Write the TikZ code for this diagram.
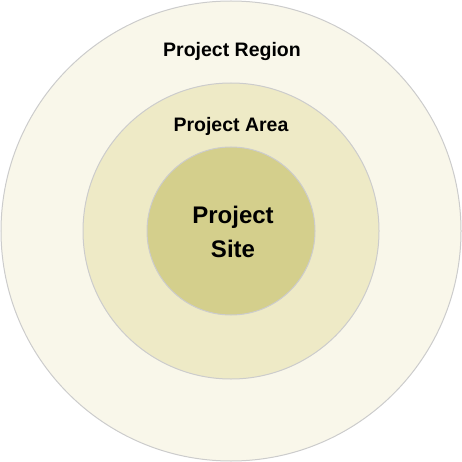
\documentclass[tikz,border=0pt]{standalone}
\usepackage{fontspec}
\setmainfont{Liberation Sans}
\definecolor{regionfill}{HTML}{F9F7EA}
\definecolor{areafill}{HTML}{EEEAC6}
\definecolor{sitefill}{HTML}{D4CF8C}
\definecolor{ringline}{HTML}{CCCCCC}
\tikzset{ring/.style={draw=ringline, line width=1pt, circle, inner sep=0pt}}
\tikzset{lbl/.style={text=black, inner sep=0pt}}

\begin{document}
\begin{tikzpicture}[x=1pt, y=-1pt]
\useasboundingbox (0,0) rectangle (462,462);
\node[ring, fill=regionfill, minimum size=460pt] (region) at (231,231) {};
\node[ring, fill=areafill, minimum size=296pt] (area) at (231,231) {};
\node[ring, fill=sitefill, minimum size=168pt] (site) at (231,231) {};
\node[lbl, font=\fontsize{19.5}{22}\selectfont\bfseries] (regionlbl) at (232,52) {Project Region};
\node[lbl, font=\fontsize{19.5}{22}\selectfont\bfseries] (arealbl) at (231,126) {Project Area};
\node[lbl, font=\fontsize{24}{34}\selectfont\bfseries, align=center] (sitelbl) at (233,232) {Project\\Site};
\end{tikzpicture}
\end{document}
